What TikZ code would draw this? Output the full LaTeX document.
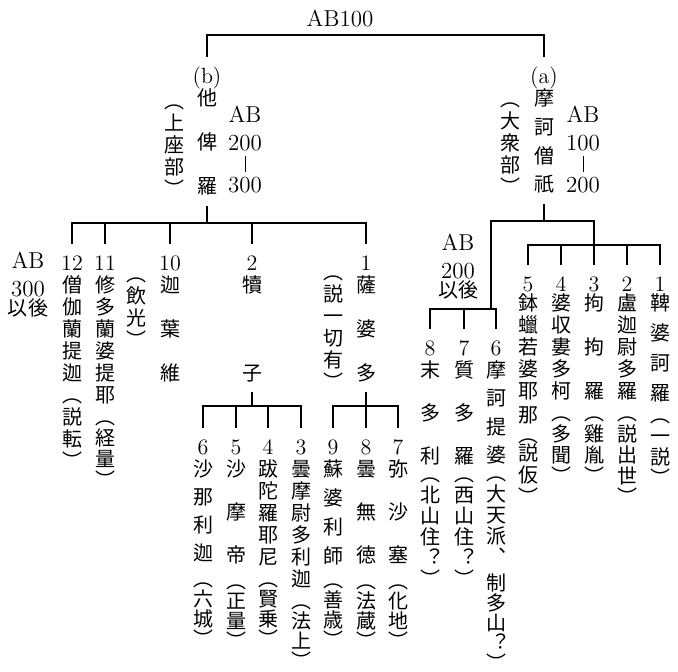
\documentclass[tikz,border=0pt]{standalone}
\usepackage{fontspec}
\newfontfamily\jp{Noto Sans CJK JP}
\usetikzlibrary{positioning}
\newcommand\colfont{\jp\fontsize{10}{11}\selectfont\lineskiplimit=-20pt\relax}
\newcommand\latfont{\fontsize{11.5}{14}\selectfont\lineskiplimit=-20pt\relax}
\newcommand\colstrut{\rule{0pt}{8pt}}
\newcommand\lat[1]{{\rmfamily\fontsize{11}{11}\selectfont #1}}
\begin{document}
\begin{tikzpicture}[x=0.5pt, y=-0.5pt, col/.style={anchor=north, align=center, inner xsep=0pt, inner ysep=5pt, font=\colfont}, lab/.style={anchor=north, align=center, inner xsep=0pt, inner ysep=5pt, font=\latfont}, br/.style={line width=0.8pt}]
\useasboundingbox (0,0) rectangle (678,672);
\node[lab, anchor=base] (root) at (340,27) {AB100};
% the two schools
\node[col] (tb) at (207,57) {\colstrut\lat{(b)}\\他\\[11pt]俾\\[11pt]羅};
\node[col] (pb) at (174,82) {\colstrut︵\\上\\座\\部\\︶};
\node[lab] (ab2) at (245,96) {\colstrut AB\\200\\[-3.5pt]\rule{0.5pt}{8pt}\\[-3.5pt]300};
\node[col] (ta) at (544,57) {\colstrut\lat{(a)}\\摩\\[3.3pt]訶\\[3.3pt]僧\\[3.3pt]祇};
\node[col] (pa) at (510,80) {\colstrut︵\\大\\衆\\部\\︶};
\node[lab] (ab1) at (583,96) {\colstrut AB\\100\\[-3.5pt]\rule{0.5pt}{8pt}\\[-3.5pt]200};
% left branch
\node[lab] (ab3) at (28,242) {\colstrut AB\\300\\[-4.5pt]{\jp\fontsize{10}{14}\selectfont 以後}};
\node[col] (c12) at (72,244) {\colstrut\lat{12}\\僧\\伽\\蘭\\提\\迦\\︵\\説\\転\\︶};
\node[col] (c11) at (105,244) {\colstrut\lat{11}\\修\\多\\蘭\\婆\\提\\耶\\︵\\[-0.5pt]経\\[-0.5pt]量\\[-0.5pt]︶};
\node[col] (p10) at (136,255) {\colstrut︵\\飲\\光\\︶};
\node[col] (c10) at (170,244) {\colstrut\lat{10}\\迦\\[11pt]葉\\[11pt]維};
\node[col] (c2) at (252,244) {\colstrut\lat{2}\\犢\\[33pt]子};
\node[col] (p1) at (333,253) {\colstrut︵\\説\\一\\切\\有\\︶};
\node[col] (c1) at (366,244) {\colstrut\lat{1}\\薩\\[11pt]婆\\[11pt]多};
\node[col] (d6) at (203,428) {\colstrut\lat{6}\\沙\\[3pt]那\\[3pt]利\\[3pt]迦\\[2pt]︵\\[-1pt]六\\[-1pt]城\\[-1pt]︶};
\node[col] (d5) at (236,428) {\colstrut\lat{5}\\沙\\[10.5pt]摩\\[10.5pt]帝\\[2pt]︵\\[-1pt]正\\[-1pt]量\\[-1pt]︶};
\node[col] (d4) at (268,428) {\colstrut\lat{4}\\跋\\陀\\羅\\耶\\尼\\︵\\[-1pt]賢\\[-1pt]乗\\[-1pt]︶};
\node[col] (d3) at (301,428) {\colstrut\lat{3}\\曇\\摩\\尉\\多\\利\\迦\\︵\\[-1pt]法\\[-1pt]上\\[-1pt]︶};
\node[col] (e9) at (333,428) {\colstrut\lat{9}\\蘇\\[3.5pt]婆\\[3.5pt]利\\[3.5pt]師\\[1pt]︵\\[-1pt]善\\[-1pt]歳\\[-1pt]︶};
\node[col] (e8) at (366,428) {\colstrut\lat{8}\\曇\\[10.5pt]無\\[10.5pt]徳\\[2pt]︵\\[-1pt]法\\[-1pt]蔵\\[-1pt]︶};
\node[col] (e7) at (398,428) {\colstrut\lat{7}\\弥\\[10.5pt]沙\\[10.5pt]塞\\[2pt]︵\\[-1pt]化\\[-1pt]地\\[-1pt]︶};
% right branch
\node[lab] (ab4) at (458,224) {\colstrut AB\\200\\[-4.5pt]{\jp\fontsize{10}{14}\selectfont 以後}};
\node[col] (f8) at (430,329) {\colstrut\lat{8}\\末\\[10.5pt]多\\[10.5pt]利\\[-2pt]︵\\[-0.5pt]北\\[-0.5pt]山\\[-0.5pt]住\\[-0.5pt]︖\\[-0.5pt]︶};
\node[col] (f7) at (464,329) {\colstrut\lat{7}\\質\\[10.5pt]多\\[10.5pt]羅\\[-2pt]︵\\[-0.5pt]西\\[-0.5pt]山\\[-0.5pt]住\\[-0.5pt]︖\\[-0.5pt]︶};
\node[col] (f6) at (496,329) {\colstrut\lat{6}\\摩\\[3.2pt]訶\\[3.2pt]提\\[3.2pt]婆\\[-2pt]︵\\[-0.5pt]大\\[-0.5pt]天\\[-0.5pt]派\\[-0.5pt]︑\\[2pt]制\\[-1pt]多\\[-1pt]山\\[-1pt]︖\\[-1pt]︶};
\node[col] (g5) at (528,265) {\colstrut\lat{5}\\[-1.5pt]鉢\\蠟\\若\\婆\\耶\\[1pt]那\\[-1pt]︵\\[-2pt]説\\仮\\︶};
\node[col] (g4) at (561,265) {\colstrut\lat{4}\\[-1.5pt]婆\\収\\婁\\多\\柯\\︵\\[-0.5pt]多\\[-0.5pt]聞\\[-0.5pt]︶};
\node[col] (g3) at (594,265) {\colstrut\lat{3}\\[-1.5pt]拘\\[11pt]拘\\[11pt]羅\\︵\\[-0.5pt]雞\\[-0.5pt]胤\\[-0.5pt]︶};
\node[col] (g2) at (627,265) {\colstrut\lat{2}\\[-1.5pt]盧\\迦\\尉\\多\\羅\\︵\\[-0.5pt]説\\[-0.5pt]出\\[-0.5pt]世\\[-0.5pt]︶};
\node[col] (g1) at (660,265) {\colstrut\lat{1}\\[-1.5pt]鞞\\[4pt]婆\\[4pt]訶\\[4pt]羅\\︵\\[-0.5pt]一\\[-0.5pt]説\\[-0.5pt]︶};
% connectors
\coordinate (tbar) at (340,35);
\coordinate (bbar) at (207,223);
\coordinate (sbar2) at (252,406);
\coordinate (sbar1) at (366,406);
\coordinate (abar) at (544,221);
\coordinate (fj) at (491,309);
\coordinate (gbar) at (594,245);
\draw[br] (tb.north) -- (tb.north |- tbar) -- (ta.north |- tbar) -- (ta.north);
\draw[br] (tb.south) -- (tb.south |- bbar);
\draw[br] (c12.north) -- (c12.north |- bbar) -- (c1.north |- bbar) -- (c1.north);
\foreach \n in {c11,c10,c2} \draw[br] (\n.north) -- (\n.north |- bbar);
\draw[br] (c2.south) -- (c2.south |- sbar2);
\draw[br] (d6.north) -- (d6.north |- sbar2) -- (d3.north |- sbar2) -- (d3.north);
\foreach \n in {d5,d4} \draw[br] (\n.north) -- (\n.north |- sbar2);
\draw[br] (c1.south) -- (c1.south |- sbar1);
\draw[br] (e9.north) -- (e9.north |- sbar1) -- (e7.north |- sbar1) -- (e7.north);
\draw[br] (e8.north) -- (e8.north |- sbar1);
\draw[br] (ta.south) -- (ta.south |- abar);
\draw[br] (fj) |- (g3.north |- abar) -- (g3.north);
\draw[br] (f8.north) -- (f8.north |- fj) -- (f6.north |- fj) -- (f6.north);
\draw[br] (f7.north) -- (f7.north |- fj);
\draw[br] (g5.north) -- (g5.north |- gbar) -- (g1.north |- gbar) -- (g1.north);
\foreach \n in {g4,g2} \draw[br] (\n.north) -- (\n.north |- gbar);
\end{tikzpicture}
\end{document}
